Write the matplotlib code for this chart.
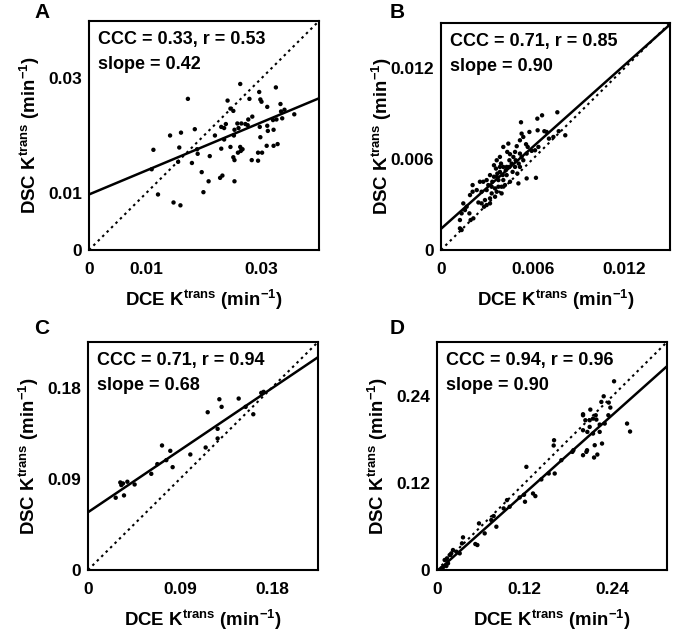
import numpy as np
import matplotlib
matplotlib.use("Agg")
import matplotlib.pyplot as plt

plt.rcParams['font.family'] = ['Liberation Sans', 'DejaVu Sans']
plt.rcParams['font.weight'] = 'bold'
plt.rcParams['mathtext.fontset'] = 'custom'
plt.rcParams['mathtext.rm'] = 'Liberation Sans:bold'
plt.rcParams['mathtext.bf'] = 'Liberation Sans:bold'
plt.rcParams['mathtext.it'] = 'Liberation Sans:bold'

# ---------------- data ----------------
a_x = [0.0263, 0.0172, 0.0325, 0.0296, 0.0241, 0.0298, 0.0300, 0.0279, 0.0333, 0.0310,
       0.0246, 0.0251, 0.0340, 0.0334, 0.0357, 0.0284, 0.0277, 0.0320, 0.0336, 0.0272,
       0.0258, 0.0238, 0.0230, 0.0260, 0.0253, 0.0310, 0.0297, 0.0321, 0.0311, 0.0184,
       0.0141, 0.0160, 0.0219, 0.0252, 0.0298, 0.0235, 0.0112, 0.0157, 0.0188, 0.0230,
       0.0246, 0.0263, 0.0267, 0.0264, 0.0259, 0.0309, 0.0321, 0.0328, 0.0301, 0.0294,
       0.0189, 0.0210, 0.0251, 0.0253, 0.0283, 0.0294, 0.0179, 0.0155, 0.0109, 0.0196,
       0.0232, 0.0228, 0.0208, 0.0253, 0.0120, 0.0199, 0.0147, 0.0159, 0.0235, 0.0265,
       0.0276, 0.0326]
a_y = [0.0290, 0.0264, 0.0284, 0.0276, 0.0261, 0.0263, 0.0259, 0.0264, 0.0255, 0.0250,
       0.0247, 0.0243, 0.0245, 0.0242, 0.0237, 0.0233, 0.0228, 0.0227, 0.0230, 0.0220,
       0.0221, 0.0220, 0.0215, 0.0213, 0.0210, 0.0217, 0.0215, 0.0210, 0.0208, 0.0211,
       0.0200, 0.0205, 0.0200, 0.0200, 0.0197, 0.0193, 0.0175, 0.0179, 0.0176, 0.0177,
       0.0180, 0.0180, 0.0176, 0.0173, 0.0170, 0.0182, 0.0182, 0.0185, 0.0170, 0.0170,
       0.0168, 0.0164, 0.0162, 0.0157, 0.0157, 0.0156, 0.0152, 0.0154, 0.0141, 0.0136,
       0.0130, 0.0126, 0.0120, 0.0120, 0.0097, 0.0101, 0.0083, 0.0078, 0.0213, 0.0221,
       0.0218, 0.0228]

b_x = [0.00762, 0.00662, 0.00631, 0.00524, 0.00528, 0.00579, 0.00633, 0.00677, 0.00692, 0.00771,
       0.00736, 0.00814, 0.00707, 0.00539, 0.00517, 0.00557, 0.00496, 0.00568, 0.00408, 0.00434,
       0.00452, 0.00474, 0.00517, 0.00528, 0.00539, 0.00509, 0.00485, 0.00448, 0.00424, 0.00386,
       0.00365, 0.00347, 0.00360, 0.00386, 0.00404, 0.00430, 0.00469, 0.00500, 0.00408, 0.00376,
       0.00347, 0.00321, 0.00299, 0.00277, 0.00255, 0.00310, 0.00332, 0.00354, 0.00376, 0.00419,
       0.00452, 0.00507, 0.00561, 0.00622, 0.00207, 0.00234, 0.00207, 0.00266, 0.00299, 0.00332,
       0.00354, 0.00321, 0.00288, 0.00266, 0.00245, 0.00282, 0.00299, 0.00321, 0.00190, 0.00146,
       0.00168, 0.00157, 0.00186, 0.00135, 0.00212, 0.00124, 0.00194, 0.00124, 0.00135, 0.00517,
       0.00448, 0.00485, 0.00594, 0.00616, 0.00561, 0.00441, 0.00393, 0.00408, 0.00369, 0.00336,
       0.00430, 0.00463, 0.00489, 0.00638, 0.00386, 0.00365, 0.00397, 0.00365, 0.00397]
b_y = [0.00910, 0.00890, 0.00868, 0.00844, 0.00769, 0.00780, 0.00791, 0.00785, 0.00780, 0.00785,
       0.00747, 0.00758, 0.00736, 0.00747, 0.00725, 0.00699, 0.00686, 0.00681, 0.00681, 0.00648,
       0.00633, 0.00615, 0.00637, 0.00615, 0.00593, 0.00571, 0.00549, 0.00549, 0.00527, 0.00615,
       0.00593, 0.00560, 0.00538, 0.00516, 0.00495, 0.00495, 0.00516, 0.00505, 0.00462, 0.00462,
       0.00484, 0.00495, 0.00462, 0.00451, 0.00451, 0.00429, 0.00418, 0.00407, 0.00418, 0.00429,
       0.00451, 0.00440, 0.00473, 0.00477, 0.00429, 0.00396, 0.00385, 0.00385, 0.00396, 0.00374,
       0.00352, 0.00341, 0.00330, 0.00308, 0.00314, 0.00286, 0.00297, 0.00308, 0.00363, 0.00308,
       0.00286, 0.00264, 0.00242, 0.00242, 0.00209, 0.00198, 0.00198, 0.00143, 0.00132, 0.00549,
       0.00593, 0.00648, 0.00655, 0.00659, 0.00637, 0.00703, 0.00571, 0.00549, 0.00505, 0.00451,
       0.00549, 0.00571, 0.00593, 0.00681, 0.00549, 0.00484, 0.00418, 0.00385, 0.00374]

c_x = [0.1285, 0.1474, 0.1307, 0.1542, 0.1171, 0.1617, 0.1718, 0.1695, 0.1268, 0.1268,
       0.1151, 0.1001, 0.0724, 0.0805, 0.0766, 0.0828, 0.0678, 0.0619, 0.0456, 0.0316,
       0.0385, 0.0342, 0.0271, 0.0352, 0.0326]
c_y = [0.1685, 0.1692, 0.1610, 0.1610, 0.1557, 0.1537, 0.1758, 0.1748, 0.1393, 0.1298,
       0.1209, 0.1140, 0.1229, 0.1176, 0.1084, 0.1015, 0.1045, 0.0949, 0.0844, 0.0864,
       0.0871, 0.0854, 0.0713, 0.0736, 0.0838]

d_x = [0.2425, 0.2283, 0.2251, 0.2352, 0.2374, 0.2347, 0.2100, 0.2174, 0.2000, 0.2032,
       0.2091, 0.2137, 0.2183, 0.2228, 0.2297, 0.2000, 0.2059, 0.2137, 0.2091, 0.2228,
       0.2603, 0.2644, 0.1603, 0.1598, 0.1868, 0.2000, 0.2046, 0.2055, 0.2160, 0.2260,
       0.2151, 0.2196, 0.1703, 0.1530, 0.1612, 0.1429, 0.1224, 0.1315, 0.1347, 0.1192,
       0.1205, 0.1132, 0.0959, 0.0995, 0.0913, 0.0776, 0.0813, 0.0575, 0.0744, 0.0525,
       0.0553, 0.0356, 0.0342, 0.0219, 0.0265, 0.0311, 0.0196, 0.0174, 0.0137, 0.0105,
       0.0151, 0.0128, 0.0082, 0.0059, 0.0653, 0.1854, 0.2000]
d_y = [0.2607, 0.2400, 0.2322, 0.2313, 0.2244, 0.2138, 0.2216, 0.2138, 0.2152, 0.2069,
       0.2069, 0.2092, 0.2078, 0.2009, 0.2023, 0.1931, 0.1908, 0.1885, 0.1977, 0.1908,
       0.2023, 0.1913, 0.1793, 0.1720, 0.1655, 0.1586, 0.1632, 0.1655, 0.1724, 0.1747,
       0.1554, 0.1595, 0.1517, 0.1333, 0.1333, 0.1251, 0.1425, 0.1057, 0.1021, 0.1039,
       0.0943, 0.1002, 0.0966, 0.0874, 0.0851, 0.0745, 0.0598, 0.0644, 0.0690, 0.0359,
       0.0345, 0.0451, 0.0368, 0.0276, 0.0253, 0.0230, 0.0230, 0.0207, 0.0161, 0.0138,
       0.0092, 0.0055, 0.0037, 0.0023, 0.0506, 0.1632, 0.2138]

panel_letters = ['A', 'B', 'C', 'D']
limits = [0.040, 0.015, 0.225, 0.315]
ticks = [[0, 0.01, 0.03], [0, 0.006, 0.012], [0, 0.09, 0.18], [0, 0.12, 0.24]]
tick_labels = [['0', '0.01', '0.03'], ['0', '0.006', '0.012'],
               ['0', '0.09', '0.18'], ['0', '0.12', '0.24']]
fit_slope = [0.42, 0.90, 0.68, 0.90]
fit_intercept = [0.0097, 0.0014, 0.057, -0.002]
stat_line1 = ['CCC = 0.33, r = 0.53', 'CCC = 0.71, r = 0.85',
              'CCC = 0.71, r = 0.94', 'CCC = 0.94, r = 0.96']
stat_line2 = ['slope = 0.42', 'slope = 0.90', 'slope = 0.68', 'slope = 0.90']
xs = [a_x, b_x, c_x, d_x]
ys = [a_y, b_y, c_y, d_y]

xlabel = r'DCE K$^{\mathrm{trans}}$ (min$^{\mathrm{-1}}$)'
ylabel = r'DSC K$^{\mathrm{trans}}$ (min$^{\mathrm{-1}}$)'

# ---------------- figure ----------------
W, H = 675, 632
fig = plt.figure(figsize=(W / 100, H / 100), dpi=100)

boxes = [(89, 21, 319, 250), (441, 23, 670, 250), (88, 342, 318, 570), (437, 342, 667, 570)]
letter_pos = [(42, 12), (397, 12), (42, 329), (397, 329)]

for i in range(4):
    l, t, r, b = boxes[i]
    ax = fig.add_axes([l / W, 1 - b / H, (r - l) / W, (b - t) / H])
    L = limits[i]
    ax.set_xlim(0, L)
    ax.set_ylim(0, L)
    xx = np.array([0, L])
    ax.plot(xx, xx, linestyle=(0, (1.2, 1.8)), color='black', lw=1.5, zorder=2)
    ax.plot(xx, fit_intercept[i] + fit_slope[i] * xx, color='black', lw=1.8, zorder=3)
    ax.scatter(xs[i], ys[i], s=10, color='black', edgecolors='none', zorder=4)
    ax.set_xticks(ticks[i])
    ax.set_xticklabels(tick_labels[i])
    ax.set_yticks(ticks[i])
    ax.set_yticklabels(tick_labels[i])
    ax.tick_params(axis='both', length=0, labelsize=12.5)
    ax.tick_params(axis='x', pad=9)
    ax.tick_params(axis='y', pad=5)
    for lab in ax.get_xticklabels() + ax.get_yticklabels():
        lab.set_fontweight('bold')
    for sp in ax.spines.values():
        sp.set_linewidth(1.5)
    ax.set_xlabel(xlabel, fontsize=13.4, fontweight='bold', labelpad=7.5)
    ax.set_ylabel(ylabel, fontsize=13.4, fontweight='bold')
    ax.yaxis.set_label_coords(-0.205, 0.5)
    ax.text(0.04, 0.958, stat_line1[i], transform=ax.transAxes, fontsize=13,
            fontweight='bold', va='top', ha='left')
    ax.text(0.04, 0.848, stat_line2[i], transform=ax.transAxes, fontsize=13,
            fontweight='bold', va='top', ha='left')
    fig.text(letter_pos[i][0] / W, 1 - letter_pos[i][1] / H, panel_letters[i],
             fontsize=15, fontweight='bold', ha='center', va='center')

fig.savefig('out.png', dpi=100)
